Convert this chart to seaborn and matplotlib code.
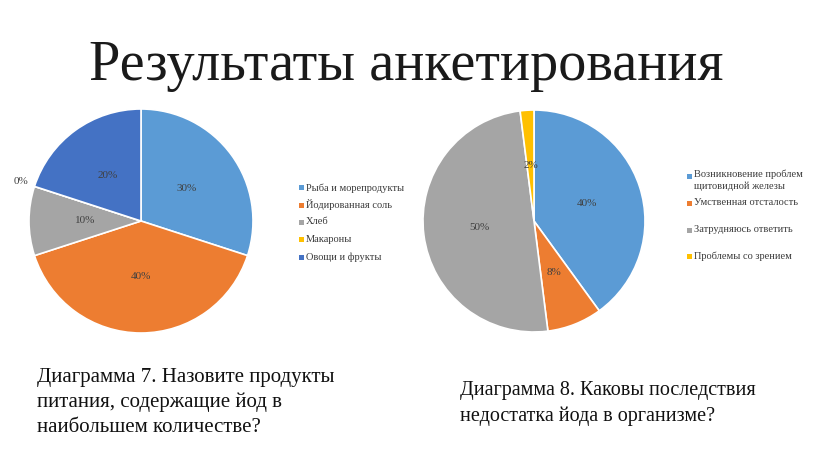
import matplotlib
matplotlib.use("Agg")
import matplotlib.pyplot as plt
import seaborn as sns
import numpy as np
from matplotlib.patches import Rectangle

sns.set_theme(style="white")
plt.rcParams['font.family'] = ['Liberation Serif', 'DejaVu Serif']

title = "Результаты анкетирования"

cats1 = ["Рыба и морепродукты", "Йодированная соль", "Хлеб", "Макароны", "Овощи и фрукты"]
vals1 = [30, 40, 10, 0, 20]
colors1 = ["#5B9BD5", "#ED7D31", "#A5A5A5", "#FFC000", "#4472C4"]
caption1 = "Диаграмма 7. Назовите продукты\nпитания, содержащие йод в\nнаибольшем количестве?"

cats2 = ["Возникновение проблем\nщитовидной железы", "Умственная отсталость",
         "Затрудняюсь ответить", "Проблемы со зрением"]
vals2 = [40, 8, 50, 2]
colors2 = ["#5B9BD5", "#ED7D31", "#A5A5A5", "#FFC000"]
caption2 = "Диаграмма 8. Каковы последствия\nнедостатка йода в организме?"

W, H = 816, 457
fig = plt.figure(figsize=(W / 100, H / 100), dpi=100)
fig.patch.set_facecolor("white")


def pie_axes(cx, cy, r):
    return fig.add_axes([(cx - r) / W, 1 - (cy + r) / H, 2 * r / W, 2 * r / H])


def draw_pie(ax, vals, colors):
    wedges, texts, autotexts = ax.pie(
        vals, colors=colors, startangle=90, counterclock=False,
        autopct='%1.0f%%', pctdistance=0.5, radius=1,
        wedgeprops=dict(edgecolor="white", linewidth=1.2),
        textprops=dict(fontsize=8, color="#404040"))
    for w, t, v in zip(wedges, autotexts, vals):
        if v == 0:
            ang = np.deg2rad(w.theta1)
            t.set_position((1.13 * np.cos(ang), 1.13 * np.sin(ang)))
    ax.set_xlim(-1, 1)
    ax.set_ylim(-1, 1)
    ax.set_aspect("equal")
    ax.axis("off")
    return wedges


def draw_legend(x, ys, labels, colors):
    for y, lab, c in zip(ys, labels, colors):
        fig.patches.append(Rectangle(((x - 2.5) / W, 1 - (y + 2.5) / H), 5 / W, 5 / H,
                                     transform=fig.transFigure, facecolor=c,
                                     edgecolor="none"))
        if "\n" in lab:
            fig.text((x + 5) / W, 1 - (y - 6) / H, lab, fontsize=7.5, color="#3a3a3a",
                     va="top", ha="left", linespacing=1.3)
        else:
            fig.text((x + 5) / W, 1 - y / H, lab, fontsize=7.5, color="#3a3a3a",
                     va="center", ha="left")


ax1 = pie_axes(141, 221, 112)
draw_pie(ax1, vals1, colors1)
draw_legend(301, [188, 205, 222, 239, 257], cats1, colors1)

ax2 = pie_axes(534, 221, 111)
draw_pie(ax2, vals2, colors2)
draw_legend(689, [176, 203, 230, 256], cats2, colors2)

fig.text(406 / W, 1 - 66 / H, title, fontsize=40.5, ha="center", va="center",
         color="#1a1a1a")
fig.text(37 / W, 1 - 368 / H, caption1, fontsize=15, ha="left", va="top",
         color="#111111", linespacing=1.4)
fig.text(460 / W, 1 - 381 / H, caption2, fontsize=14.5, ha="left", va="top",
         color="#111111", linespacing=1.42)

fig.savefig("out.png", dpi=100, facecolor="white")
